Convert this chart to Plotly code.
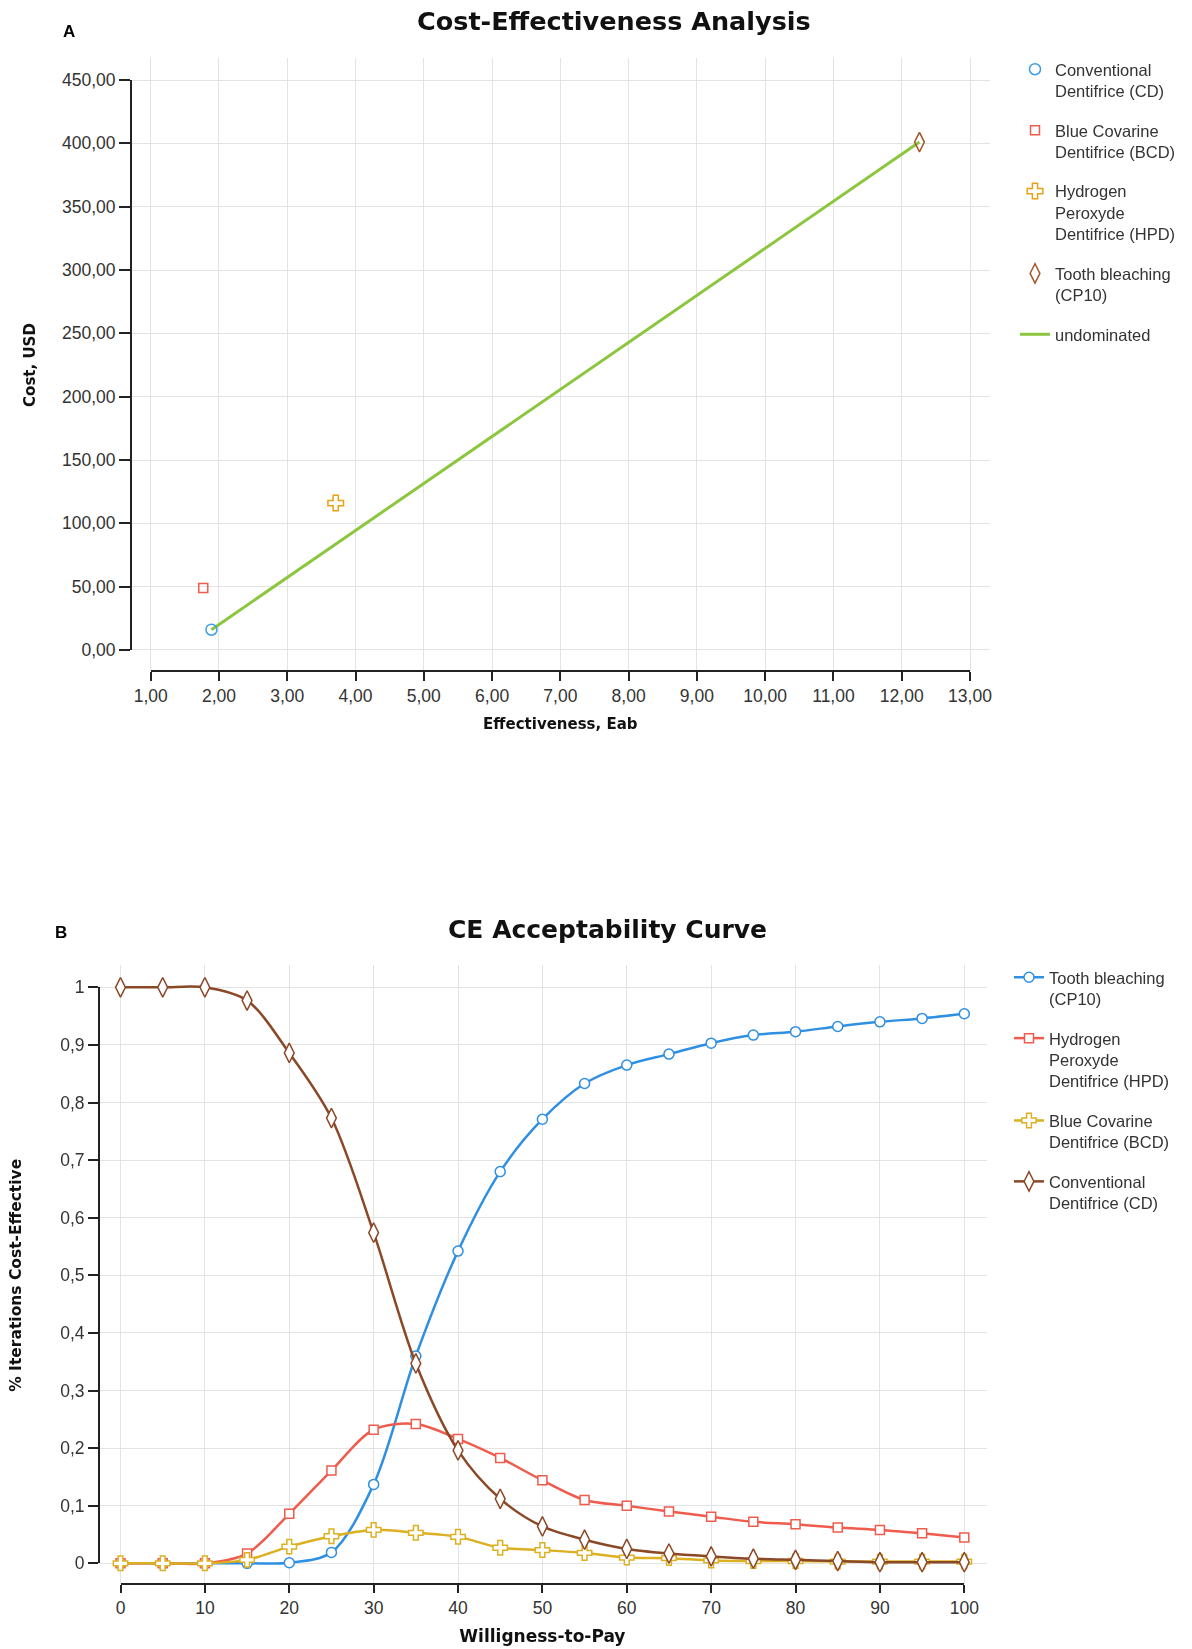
import plotly.graph_objects as go

W, H = 1192, 1649

# ---------------- Panel A : cost-effectiveness plane ----------------
ce_names = [
    "Conventional<br>Dentifrice (CD)",
    "Blue Covarine<br>Dentifrice (BCD)",
    "Hydrogen<br>Peroxyde<br>Dentifrice (HPD)",
    "Tooth bleaching<br>(CP10)",
]
ce_effect = [1.89, 1.77, 3.71, 12.26]
ce_cost = [16.0, 49.0, 116.0, 401.0]
ce_symbols = ["circle-open", "square-open", "cross-open", "diamond-tall-open"]
ce_sizes = [11, 9, 13, 14]
ce_colors = ["#3d9be9", "#f15b4b", "#e6a117", "#a4552c"]

undominated_effect = [1.89, 12.26]
undominated_cost = [16.0, 401.0]

# ---------------- Panel B : CE acceptability curve ----------------
wtp = [0, 5, 10, 15, 20, 25, 30, 35, 40, 45, 50, 55, 60, 65, 70, 75, 80, 85, 90, 95, 100]
ceac_tb = [0, 0, 0, 0, 0.001, 0.019, 0.137, 0.360, 0.542, 0.680, 0.771, 0.833, 0.865,
           0.884, 0.903, 0.917, 0.923, 0.932, 0.940, 0.946, 0.954]
ceac_hpd = [0, 0, 0, 0.017, 0.086, 0.161, 0.232, 0.242, 0.216, 0.183, 0.144, 0.110, 0.100,
            0.090, 0.081, 0.072, 0.068, 0.062, 0.058, 0.052, 0.045]
ceac_bcd = [0, 0, 0, 0.006, 0.029, 0.047, 0.058, 0.053, 0.046, 0.027, 0.023, 0.018, 0.010,
            0.009, 0.005, 0.004, 0.004, 0.003, 0.003, 0.003, 0.003]
ceac_cd = [1, 1, 1, 0.977, 0.886, 0.773, 0.574, 0.347, 0.196, 0.112, 0.064, 0.041, 0.025,
           0.017, 0.012, 0.008, 0.006, 0.004, 0.002, 0.002, 0.002]

ceac_names = [
    "Tooth bleaching<br>(CP10)",
    "Hydrogen<br>Peroxyde<br>Dentifrice (HPD)",
    "Blue Covarine<br>Dentifrice (BCD)",
    "Conventional<br>Dentifrice (CD)",
]
ceac_series = [ceac_tb, ceac_hpd, ceac_bcd, ceac_cd]
ceac_colors = ["#2f8fe2", "#ef5b4c", "#dcb021", "#8b4827"]
ceac_symbols = ["circle", "square", "cross", "diamond-tall"]
ceac_sizes = [10, 9, 12, 14]


def px(x):
    return x / W


def py(y):
    return 1 - y / H


TICK_FONT = dict(family="Liberation Sans, Arial, sans-serif", size=17.5, color="#333333")
LEG_FONT = dict(family="Liberation Sans, Arial, sans-serif", size=16.5, color="#333333")
TITLE_FAMILY = "DejaVu Sans, Verdana, sans-serif"

fig = go.Figure()

# ---- Panel A traces (grid axes x / y) ----
fig.add_trace(go.Scatter(
    x=undominated_effect, y=undominated_cost, name="undominated", mode="lines",
    line=dict(color="#8cc63e", width=3),
    xaxis="x", yaxis="y", legend="legend", legendgroup="a_und", legendrank=1005,
))
for i in range(len(ce_names)):
    fig.add_trace(go.Scatter(
        x=[ce_effect[i]], y=[ce_cost[i]], name=ce_names[i], mode="markers",
        marker=dict(symbol=ce_symbols[i], size=ce_sizes[i], color=ce_colors[i],
                    line=dict(width=1.5, color=ce_colors[i])),
        xaxis="x", yaxis="y", legend="legend", legendgroup="a%d" % i,
        legendrank=1001 + i,
    ))
# invisible copy on the tick axes so that they render
fig.add_trace(go.Scatter(x=ce_effect, y=ce_cost, mode="markers", opacity=0,
                         showlegend=False, hoverinfo="skip", xaxis="x3", yaxis="y3"))

# ---- Panel B traces (grid axes x2 / y2) ----
for i in range(len(ceac_names)):
    fig.add_trace(go.Scatter(
        x=wtp, y=ceac_series[i], name=ceac_names[i], mode="lines+markers",
        line=dict(color=ceac_colors[i], width=2.5, shape="spline", smoothing=0.9),
        marker=dict(symbol=ceac_symbols[i], size=ceac_sizes[i], color="white",
                    line=dict(width=1.5, color=ceac_colors[i])),
        xaxis="x2", yaxis="y2", legend="legend2", legendgroup="b%d" % i,
    ))
fig.add_trace(go.Scatter(x=wtp, y=ceac_tb, mode="markers", opacity=0,
                         showlegend=False, hoverinfo="skip", xaxis="x4", yaxis="y4"))

grid_common = dict(showgrid=True, gridcolor="#e3e3e3", gridwidth=1, showline=False,
                   zeroline=False, showticklabels=False, ticks="", fixedrange=True,
                   automargin=False)
tick_common = dict(showgrid=False, zeroline=False, showline=True, linecolor="#222222",
                   linewidth=2, ticks="outside", tickwidth=1.5,
                   tickcolor="#222222", tickfont=TICK_FONT, fixedrange=True,
                   automargin=False)

fig.update_layout(
    template="none",
    width=W, height=H,
    margin=dict(l=0, r=0, t=0, b=0, pad=0, autoexpand=False),
    paper_bgcolor="white", plot_bgcolor="rgba(0,0,0,0)",
    separators=",.",
    # Panel A grid axes
    xaxis=dict(domain=[px(131), px(990)], range=[0.7114, 13.293], dtick=1, tick0=1,
               anchor="y", **grid_common),
    yaxis=dict(domain=[py(671), py(58)], range=[-16.6, 467.4], dtick=50, tick0=0,
               anchor="x", **grid_common),
    # Panel A tick axes
    xaxis3=dict(domain=[px(150.7), px(970)], range=[1, 13], dtick=1, tick0=1,
                tickformat=".2f", anchor="free", position=py(671), ticklen=9,
                title=dict(text="<b>Effectiveness, Eab</b>", standoff=12,
                           font=dict(family=TITLE_FAMILY, size=15, color="#111111")),
                **tick_common),
    yaxis3=dict(domain=[py(650), py(80)], range=[0, 450], dtick=50, tick0=0,
                tickformat=".2f", anchor="free", position=px(131), ticklen=11,
                title=dict(text="<b>Cost, USD</b>", standoff=22,
                           font=dict(family=TITLE_FAMILY, size=15, color="#111111")),
                **tick_common),
    # Panel B grid axes
    xaxis2=dict(domain=[px(99), px(987)], range=[-2.548, 102.69], dtick=10, tick0=0,
                anchor="y2", **grid_common),
    yaxis2=dict(domain=[py(1584), py(965)], range=[-0.0359, 1.0387], dtick=0.1, tick0=0,
                anchor="x2", **grid_common),
    # Panel B tick axes
    xaxis4=dict(domain=[px(120.5), px(964.3)], range=[0, 100], dtick=10, tick0=0,
                anchor="free", position=py(1584), ticklen=8,
                title=dict(text="<b>Willigness-to-Pay</b>", standoff=12,
                           font=dict(family=TITLE_FAMILY, size=17, color="#111111")),
                **tick_common),
    yaxis4=dict(domain=[py(1563.3), py(987.3)], range=[0, 1], dtick=0.1, tick0=0,
                anchor="free", position=px(99), ticklen=10,
                title=dict(text="<b>% Iterations Cost-Effective</b>", standoff=34,
                           font=dict(family=TITLE_FAMILY, size=15.5, color="#111111")),
                **tick_common),
    legend=dict(x=px(1015), y=py(52), xanchor="left", yanchor="top", font=LEG_FONT,
                valign="top", tracegroupgap=15, bgcolor="rgba(0,0,0,0)",
                traceorder="grouped"),
    legend2=dict(x=px(1009), y=py(960), xanchor="left", yanchor="top", font=LEG_FONT,
                 valign="top", tracegroupgap=15, bgcolor="rgba(0,0,0,0)",
                 traceorder="grouped"),
    showlegend=True,
    annotations=[
        dict(text="<b>Cost-Effectiveness Analysis</b>", x=px(614), y=py(21),
             xref="paper", yref="paper", xanchor="center", yanchor="middle",
             showarrow=False, font=dict(family=TITLE_FAMILY, size=25.5, color="#111111")),
        dict(text="<b>CE Acceptability Curve</b>", x=px(607), y=py(929),
             xref="paper", yref="paper", xanchor="center", yanchor="middle",
             showarrow=False, font=dict(family=TITLE_FAMILY, size=25, color="#111111")),
        dict(text="<b>A</b>", x=px(69), y=py(31), xref="paper", yref="paper",
             xanchor="center", yanchor="middle", showarrow=False,
             font=dict(family="Liberation Sans, Arial, sans-serif", size=17, color="#000000")),
        dict(text="<b>B</b>", x=px(61), y=py(932), xref="paper", yref="paper",
             xanchor="center", yanchor="middle", showarrow=False,
             font=dict(family="Liberation Sans, Arial, sans-serif", size=17, color="#000000")),
    ],
)

fig.write_html("out.html", config={"displayModeBar": False},
               post_script="document.body.style.margin='0';document.body.style.overflow='hidden';")
